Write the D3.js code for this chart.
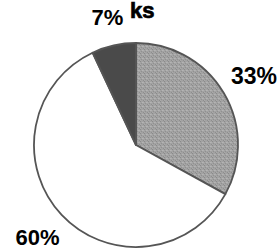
<!DOCTYPE html>
<html>
<head>
<meta charset="utf-8">
<script src="https://cdn.jsdelivr.net/npm/d3@7"></script>
<style>
  html, body { margin: 0; padding: 0; background: #fff; }
  svg { display: block; }
  text { font-family: "Liberation Sans", Arial, sans-serif; font-weight: bold; fill: #000; }
</style>
</head>
<body>
<svg id="chart" width="280" height="250"></svg>
<script>
const categories = ["A", "B", "C"];
const values = [33, 60, 7];
const labels = ["33%", "60%", "7%"];
const titleText = "ks";

const W = 280, H = 250;
const cx = 136, cy = 145, R = 102;
const labelRadii = [137, 135, 131];

const svg = d3.select("#chart");
const defs = svg.append("defs");

// stippled grey pattern
const pat = defs.append("pattern")
  .attr("id", "stipple").attr("patternUnits", "userSpaceOnUse")
  .attr("width", 4).attr("height", 4);
pat.append("rect").attr("width", 4).attr("height", 4).attr("fill", "#a2a2a2");
[[0,0,"#8a8a8a"],[2,1,"#b4b4b4"],[1,2,"#909090"],[3,3,"#8e8e8e"],[3,1,"#b0b0b0"],[0,3,"#aaaaaa"]]
  .forEach(([x,y,c]) => pat.append("rect").attr("x", x).attr("y", y)
    .attr("width", 1).attr("height", 1).attr("fill", c));

const fills = ["url(#stipple)", "#ffffff", "#4a4a4a"];

const pie = d3.pie().sort(null).value(d => d)(values);
const arc = d3.arc().innerRadius(0).outerRadius(R);

const g = svg.append("g").attr("transform", `translate(${cx},${cy})`);

g.selectAll("path.slice").data(pie).join("path")
  .attr("class", "slice")
  .attr("d", arc)
  .attr("fill", (d, i) => fills[i])
  .attr("stroke", "#555")
  .attr("stroke-width", 1.8)
  .attr("stroke-linejoin", "round");

const sizes = [23, 22, 22];
g.selectAll("text.lbl").data(pie).join("text")
  .attr("class", "lbl")
  .attr("transform", (d, i) => {
    const la = d3.arc().innerRadius(labelRadii[i]).outerRadius(labelRadii[i]);
    return `translate(${la.centroid(d)})`;
  })
  .attr("text-anchor", "middle")
  .attr("dy", "0.36em")
  .style("font-size", (d, i) => sizes[i] + "px")
  .text((d, i) => labels[i]);

svg.append("text")
  .attr("x", 130).attr("y", 18)
  .style("font-size", "22px")
  .attr("stroke", "#000").attr("stroke-width", 0.7)
  .text(titleText);
</script>
</body>
</html>
